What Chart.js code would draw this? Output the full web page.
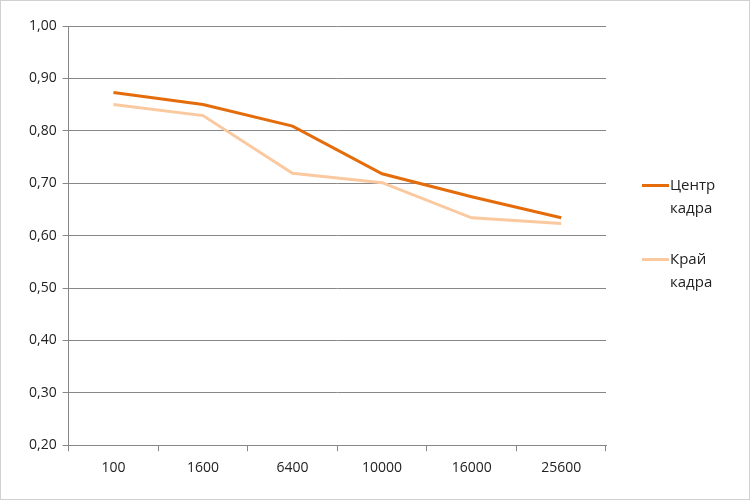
<!DOCTYPE html>
<html>
<head>
<meta charset="utf-8">
<script src="https://cdn.jsdelivr.net/npm/chart.js@4"></script>
<style>
  body { margin: 0; background: #fff; }
  #wrap { position: relative; width: 748px; height: 498px; border: 1px solid #d0d0d0; }
  #legend { position: absolute; left: 641px; top: 172px; font-family: "Open Sans", sans-serif; font-size: 15px; color: #222; }
  .item { position: relative; line-height: 23px; margin-bottom: 28px; }
  .swatch { position: absolute; left: 0; top: 11px; width: 27px; height: 3px; }
  .txt { margin-left: 28px; }
</style>
</head>
<body>
<div id="wrap">
  <canvas id="chart" width="748" height="498"></canvas>
  <div id="legend"></div>
</div>
<script>
// ISO values along the x axis
const isoLabels = ['100', '1600', '6400', '10000', '16000', '25600'];
const centerValues = [0.873, 0.850, 0.809, 0.718, 0.674, 0.634];
const edgeValues = [0.850, 0.829, 0.719, 0.701, 0.634, 0.623];
const seriesNames = [['Центр', 'кадра'], ['Край', 'кадра']];
const seriesColors = ['#E46C0A', '#FAC9A0'];

document.addEventListener('DOMContentLoaded', function() {
    const ctx = document.getElementById('chart').getContext('2d');
    const tickFont = { family: '"Open Sans", sans-serif', size: 14 };

    new Chart(ctx, {
        type: 'line',
        data: {
            labels: isoLabels,
            datasets: [
                { label: seriesNames[0].join(' '), data: centerValues, borderColor: seriesColors[0], borderWidth: 3, pointRadius: 0, tension: 0 },
                { label: seriesNames[1].join(' '), data: edgeValues, borderColor: seriesColors[1], borderWidth: 3, pointRadius: 0, tension: 0 }
            ]
        },
        options: {
            responsive: false,
            animation: false,
            layout: { padding: { top: 25, right: 143, bottom: 15, left: 22 } },
            plugins: { legend: { display: false }, tooltip: { enabled: false } },
            scales: {
                x: {
                    offset: true,
                    grid: { offset: true, drawOnChartArea: false, color: '#878787', tickLength: 6 },
                    border: { color: '#878787' },
                    ticks: { color: '#222', font: tickFont, padding: 8 }
                },
                y: {
                    min: 0.2,
                    max: 1.0,
                    grid: { color: '#878787', tickLength: 6 },
                    border: { color: '#878787' },
                    ticks: {
                        stepSize: 0.1,
                        color: '#222',
                        font: tickFont,
                        padding: 6,
                        callback: v => v.toFixed(2).replace('.', ',')
                    }
                }
            }
        }
    });

    const legend = document.getElementById('legend');
    seriesNames.forEach(function(name, i) {
        const item = document.createElement('div');
        item.className = 'item';
        item.innerHTML = '<span class="swatch" style="background:' + seriesColors[i] + '"></span>' +
            '<div class="txt">' + name.join('<br>') + '</div>';
        legend.appendChild(item);
    });
});
</script>
</body>
</html>
